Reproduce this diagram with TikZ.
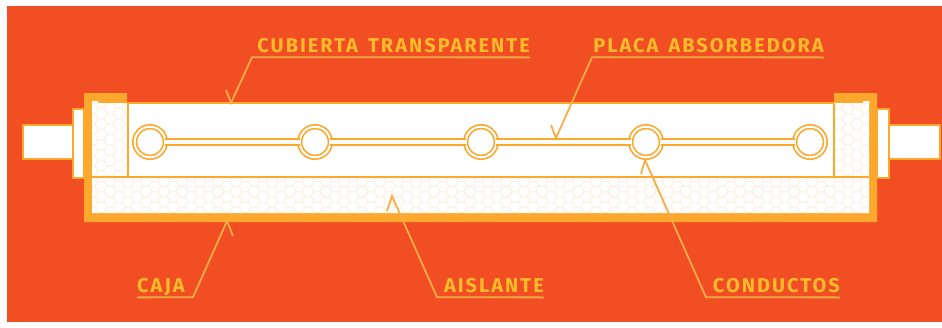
\documentclass[tikz,border=0pt]{standalone}
\usepackage{fontspec}
\usetikzlibrary{positioning}
\newfontfamily\labelfont[LetterSpace=10,WordSpace=1.5]{Fira Sans}
\definecolor{panel}{HTML}{F14E23}
\definecolor{trim}{HTML}{FBA82C}
\definecolor{leader}{HTML}{FCAC45}
\definecolor{lettering}{HTML}{FDBB2A}
\definecolor{foam}{HTML}{FDF1E2}
\tikzset{
  tag/.style={text=lettering,font=\labelfont\bfseries\fontsize{20}{20}\selectfont,inner xsep=0pt,inner ysep=5.2pt,text depth=0pt},
  pointer/.style={draw=leader,line width=1.8pt,line join=miter},
  tube/.style={draw=trim,shape=circle,fill=white,line width=1.7pt,double=white,double distance=2pt,minimum size=30.6pt,inner sep=0pt,outer sep=0pt},
  plate/.style={draw=trim,line width=1.7pt,double=white,double distance=4pt},
  shell/.style={draw=trim,fill=white,line width=2pt}
}
\begin{document}
\begin{tikzpicture}[x=1pt,y=-1pt]
\useasboundingbox (0,0) rectangle (942,327);
\fill[white] (0,0) rectangle (942,327);
\fill[panel] (7,6) rectangle (942,322);

% stubs
\draw[shell] (22.5,124.5) rectangle (73,158.5);
\draw[shell] (73,109) rectangle (84,178);
\draw[shell] (939.5,124.5) rectangle (889,158.5);
\draw[shell] (888.5,109) rectangle (877,178);

% case
\fill[trim] (84,93) -- (127,93) -- (127,103) -- (834,103) -- (834,93) -- (877,93) -- (877,222) -- (84,222) -- cycle;
\fill[white] (92,101) -- (98,101) -- (98,103) -- (863,103) -- (863,101) -- (869,101) -- (869,213) -- (92,213) -- cycle;

% insulation
\begin{scope}
\clip (92,101) -- (98,101) -- (98,103) -- (863,103) -- (863,101) -- (869,101) -- (869,213) -- (92,213) -- cycle;
\foreach \col in {0,...,87} {
  \pgfmathsetmacro{\hx}{92+9*\col}
  \pgfmathsetmacro{\hoff}{mod(\col,2)*5.2}
  \foreach \row in {0,...,11} {
    \pgfmathsetmacro{\hy}{98+\hoff+10.4*\row}
    \draw[foam,line width=0.9pt,shift={(\hx,\hy)}] (-6,0) -- (-3,-5.2) -- (3,-5.2) -- (6,0) -- (3,5.2) -- (-3,5.2) -- cycle;
  }
}
\end{scope}

% cover
\draw[shell] (127.5,103.3) rectangle (833.5,177.3);
\draw[trim,line width=2pt] (92,177.3) -- (869,177.3);

% tubes and plate
\node[tube] (tubeA) at (150,142) {};
\node[tube] (tubeB) at (315,142) {};
\node[tube] (tubeC) at (481,142) {};
\node[tube] (tubeD) at (646,142) {};
\node[tube] (tubeE) at (810,142) {};
\draw[plate] (tubeA) -- (tubeB);
\draw[plate] (tubeB) -- (tubeC);
\draw[plate] (tubeC) -- (tubeD);
\draw[plate] (tubeD) -- (tubeE);

% labels
\node[tag,anchor=base east] (cubierta) at (530,52) {CUBIERTA TRANSPARENTE};
\node[tag,anchor=base east] (placa) at (824,52) {PLACA ABSORBEDORA};
\node[tag,anchor=base west] (caja) at (137,292) {CAJA};
\node[tag,anchor=base east] (aislante) at (544,292) {AISLANTE};
\node[tag,anchor=base east] (conductos) at (840,292) {CONDUCTOS};

\coordinate (cubiertaElbow) at (252,57.2);
\coordinate (cubiertaTip) at (231,103);
\coordinate (cubiertaBarb) at (226,90);
\coordinate (placaElbow) at (592,57.2);
\coordinate (placaTip) at (556,138);
\coordinate (placaBarb) at (551,125);
\coordinate (cajaElbow) at (193,297.2);
\coordinate (cajaTip) at (227,221);
\coordinate (cajaBarb) at (233,236);
\coordinate (aislanteElbow) at (437,297.2);
\coordinate (aislanteTip) at (392,196);
\coordinate (aislanteBarb) at (387,211);
\coordinate (conductosElbow) at (706,297.2);
\coordinate (conductosTip) at (645,160);
\coordinate (conductosBarb) at (641,174);

\draw[pointer] (cubierta.south east) -- (cubiertaElbow) -- (cubiertaTip) -- (cubiertaBarb);
\draw[pointer] (placa.south east) -- (placaElbow) -- (placaTip) -- (placaBarb);
\draw[pointer] (caja.south west) -- (cajaElbow) -- (cajaTip) -- (cajaBarb);
\draw[pointer] (aislante.south east) -- (aislanteElbow) -- (aislanteTip) -- (aislanteBarb);
\draw[pointer] (conductos.south east) -- (conductosElbow) -- (conductosTip) -- (conductosBarb);
\end{tikzpicture}
\end{document}
